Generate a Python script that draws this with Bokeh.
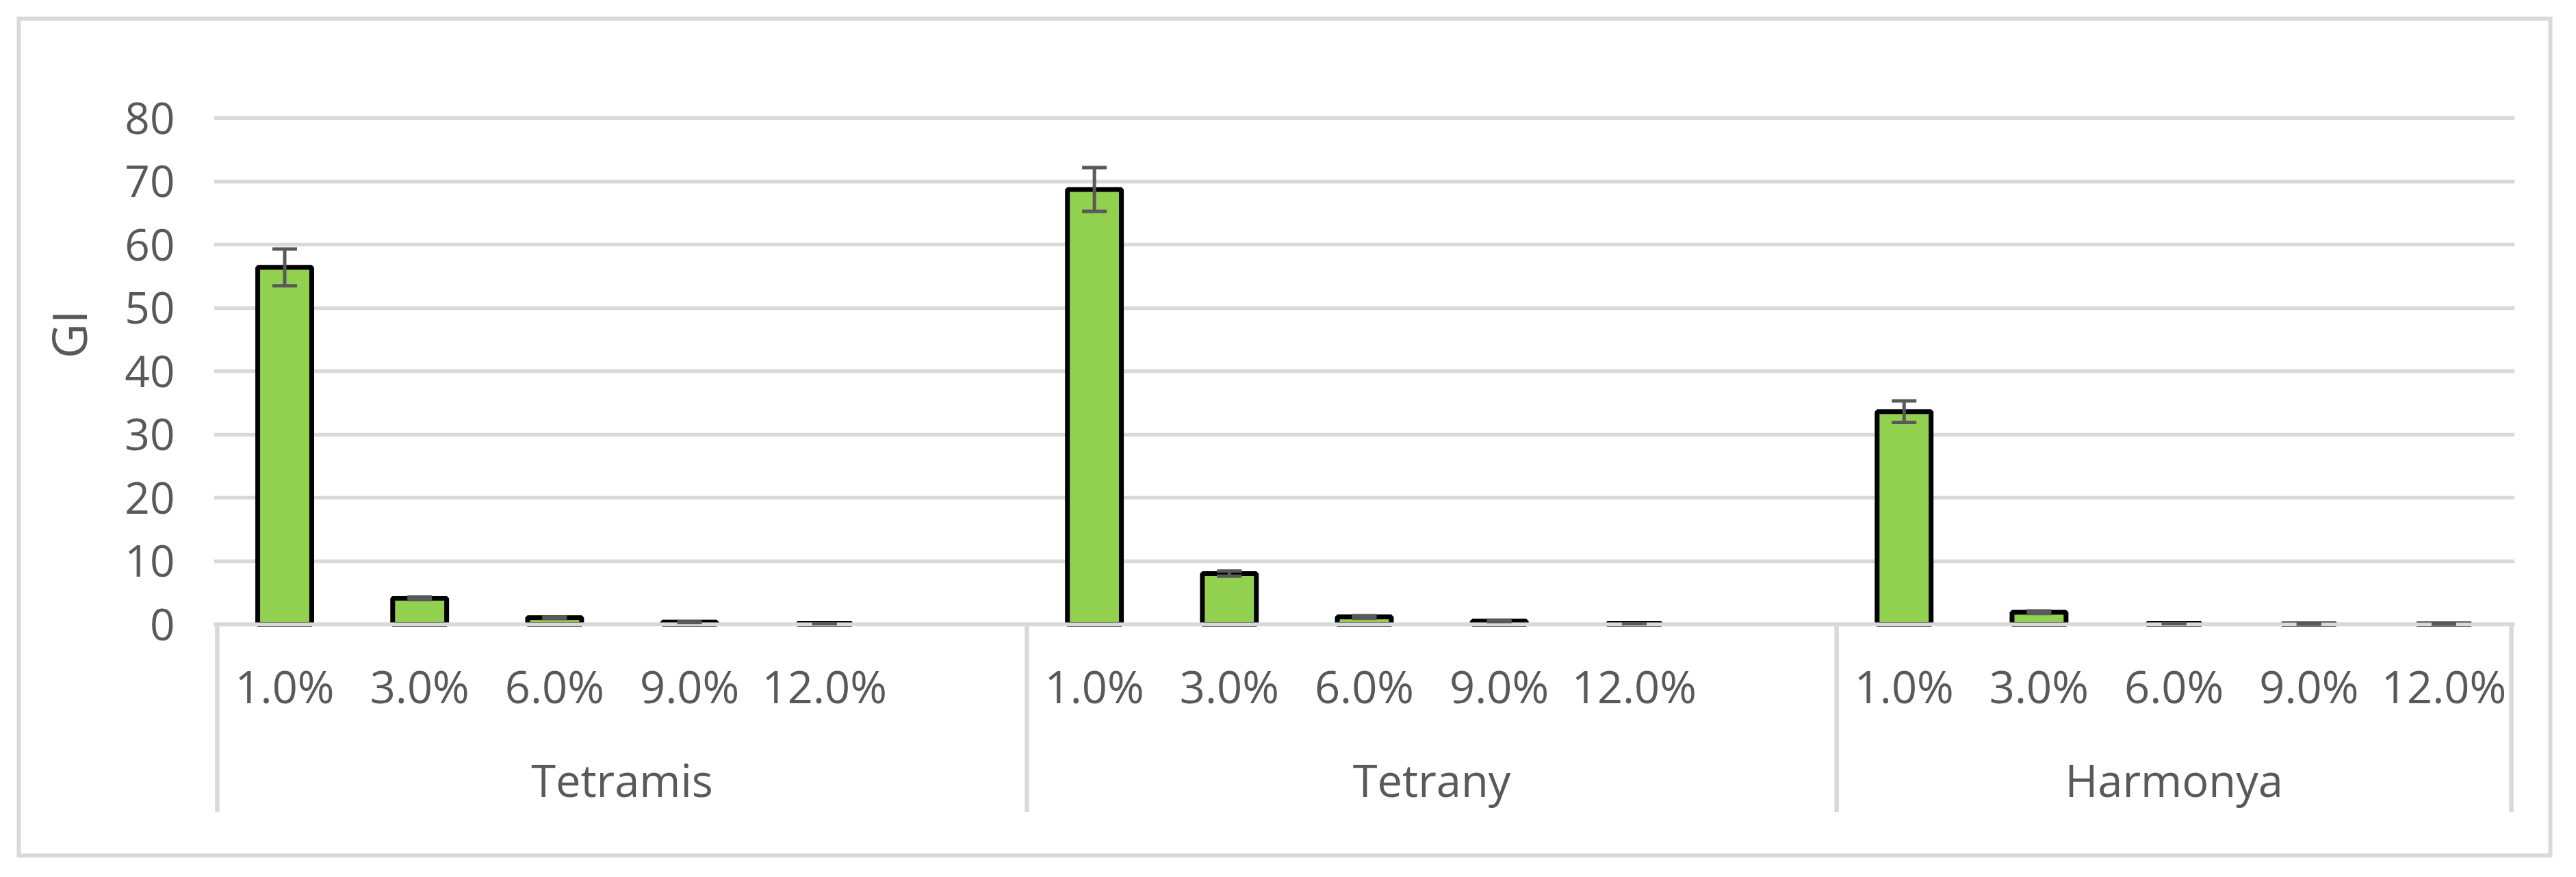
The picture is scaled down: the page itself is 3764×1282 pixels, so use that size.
from bokeh.plotting import figure
from bokeh.models import (ColumnDataSource, Range1d, FixedTicker, Whisker, TeeHead,
                          Span, Title)
from bokeh.core.properties import value
from bokeh.embed import file_html
from bokeh.resources import INLINE

# ---------------- data ----------------
groups = ["Tetramis", "Tetrany", "Harmonya"]
doses = ["1.0%", "3.0%", "6.0%", "9.0%", "12.0%"]
slots_per_group = [6, 6, 5]          # category slots per group (last slot of first two is empty)
gi_tetramis = [56.4, 4.1, 1.05, 0.35, 0.10]
gi_tetrany = [68.7, 8.0, 1.15, 0.50, 0.10]
gi_harmonya = [33.6, 1.9, 0.10, 0.05, 0.05]
err_tetramis = [2.9, 0.20, 0.15, 0.05, 0.02]
err_tetrany = [3.45, 0.40, 0.20, 0.10, 0.02]
err_harmonya = [1.7, 0.20, 0.03, 0.02, 0.02]
y_ticks = [0, 10, 20, 30, 40, 50, 60, 70, 80]
y_title = "GI"

# ---------------- layout constants (pixels) ----------------
W, H = 3754, 1278
MB_L, MB_R, MB_T, MB_B = 312, 80, 150, 91
X_PAD = 0.025
ZERO_PX = 912                    # screen y of value 0
PXY = 9.25                       # pixels per GI unit
frame_h = H - MB_T - MB_B
y_top = (ZERO_PX - MB_T) / PXY
y_bot = y_top - frame_h / PXY

total_slots = sum(slots_per_group)


def px_to_y(py):
    return (ZERO_PX - py) / PXY


# ---------------- build positions ----------------
series = [gi_tetramis, gi_tetrany, gi_harmonya]
errs = [err_tetramis, err_tetrany, err_harmonya]
xs, tops, ups, lows, labels = [], [], [], [], []
group_starts, group_centers = [], []
start = 0
for g, n in enumerate(slots_per_group):
    group_starts.append(start)
    group_centers.append(start + n / 2)
    for i, d in enumerate(doses):
        xs.append(start + i + 0.5)
        tops.append(series[g][i])
        ups.append(series[g][i] + errs[g][i])
        lows.append(series[g][i] - errs[g][i])
        labels.append(d)
    start += n
bounds = group_starts + [total_slots]

src = ColumnDataSource(dict(x=xs, top=tops, upper=ups, lower=lows, label=labels))

GRID = "#D9D9D9"
TXT = "#595959"
FONT = value("Open Sans")

p = figure(width=W, height=H, output_backend="svg", toolbar_location=None,
           x_range=Range1d(-X_PAD, total_slots + X_PAD), y_range=Range1d(y_bot, y_top),
           x_axis_location=None,
           min_border_left=MB_L, min_border_right=MB_R, min_border_top=MB_T, min_border_bottom=MB_B,
           background_fill_color=None, border_fill_color=None, outline_line_color=None)

# outer chart border (drawn by the element behind the transparent canvas)
p.styles = {"box-shadow": "inset 0 0 0 24.5px #FFFFFF, inset 0 0 0 30.5px " + GRID,
            "background-color": "#FFFFFF"}

p.xgrid.visible = False
p.ygrid.ticker = FixedTicker(ticks=y_ticks)
p.ygrid.grid_line_color = GRID
p.ygrid.grid_line_width = 5.5

yax = p.yaxis[0]
yax.ticker = FixedTicker(ticks=y_ticks)
yax.axis_line_color = None
yax.major_tick_line_color = None
yax.minor_tick_line_color = None
yax.major_tick_out = 0
yax.major_tick_in = 0
yax.major_label_standoff = 57
yax.major_label_text_font = "Open Sans"
yax.major_label_text_font_size = "64px"
yax.major_label_text_color = TXT

# y axis title, placed as a side title
p.add_layout(Title(text=y_title, align="right", vertical_align="middle", offset=303, standoff=62,
                   text_font="Open Sans", text_font_size="70px",
                   text_font_style="normal", text_color=TXT), "left")

# group separators below the axis
p.segment(x0=bounds, y0=[0] * len(bounds), x1=bounds, y1=[y_bot] * len(bounds),
          line_color=GRID, line_width=6.5)

# bars
p.vbar(x="x", top="top", bottom=0, width=0.40, source=src,
       fill_color="#92D050", line_color="black", line_width=7)

# axis line on top of bars
p.add_layout(Span(location=0, dimension="width", line_color=GRID, line_width=5.5))

# error bars
p.add_layout(Whisker(base="x", upper="upper", lower="lower", source=src, level="annotation",
                     line_color=TXT, line_width=5,
                     upper_head=TeeHead(size=36, line_color=TXT, line_width=5),
                     lower_head=TeeHead(size=36, line_color=TXT, line_width=5)))

# category labels
p.text(x="x", y=px_to_y(1002), text="label", source=src, text_font=FONT,
       text_font_size="65px", text_color=TXT, text_align="center", text_baseline="middle")
p.text(x=group_centers, y=[px_to_y(1139)] * len(groups), text=groups, text_font=FONT,
       text_font_size="65px", text_color=TXT, text_align="center", text_baseline="middle")

open("out.html", "w").write(file_html(p, INLINE))
